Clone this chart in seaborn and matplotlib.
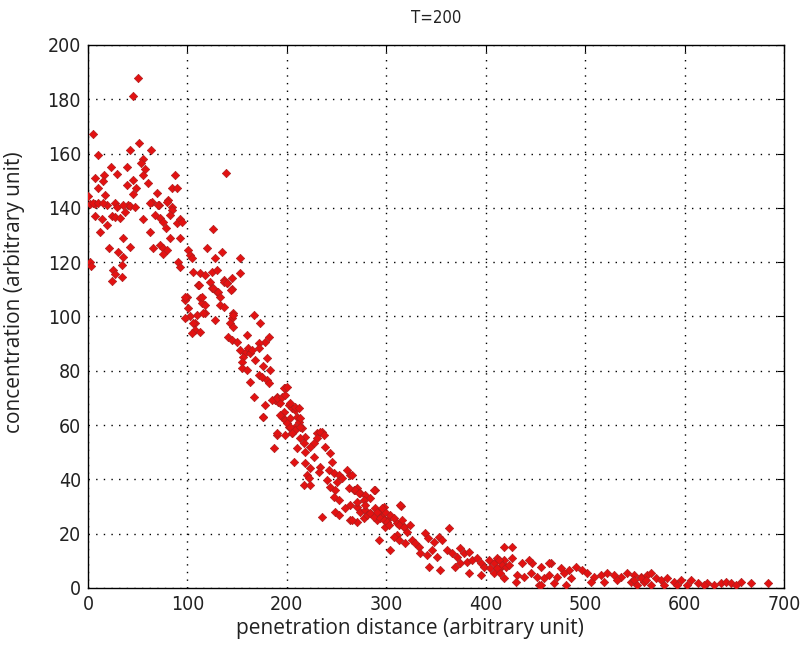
import matplotlib
matplotlib.use("Agg")
import matplotlib.pyplot as plt
import seaborn as sns
import pandas as pd

# penetration distance / concentration samples at T=200
distance = [
    50.6, 45.6, 5.4, 51.4, 42.3, 63.1, 10.4, 55.7, 53.4, 22.9, 39.0, 57.4, 87.6, 138.7, 16.1, 29.5,
    7.0, 55.0, 45.6, 14.8, 60.7, 39.0, 48.3, 10.4, 84.9, 89.3, 69.1, 45.6, 17.1, 0.3, 64.1, 71.5,
    80.9, 7.0, 18.8, 27.2, 40.6, 84.3, 2.0,
    5.4, 10.4, 15.4, 29.0, 35.6, 42.3, 47.3, 62.4, 70.8, 79.3, 84.3, 7.0, 13.7, 23.8, 27.2, 32.2,
    18.8, 37.3, 55.7, 67.5, 72.5, 75.8, 82.6, 89.3, 92.6, 94.4, 78.5, 62.4, 12.1, 126.2, 35.6, 42.3,
    21.5, 30.5, 82.6, 92.6, 65.8, 72.5, 75.8, 79.2, 75.8, 101.0, 102.7, 104.4, 119.4, 134.6, 35.6,
    34.2, 2.0, 2.7, 90.9, 92.6, 127.9, 152.4, 25.5, 27.2, 34.2, 23.8, 106.0, 112.8, 117.8, 124.6,
    129.5, 136.3, 139.6, 144.7, 152.4, 111.1, 122.9, 124.5, 129.5, 144.7, 99.3, 97.7, 112.8, 114.4,
    117.8, 132.9, 136.3, 146.3, 144.7, 102.7, 109.4, 117.8, 127.9, 101.0, 107.8, 97.7,
    112.1, 126.2, 131.2, 136.3, 139.6, 143.7, 97.7, 114.4, 132.9, 116.1, 146.3, 166.5, 172.6,
    106.0, 107.8, 112.8, 104.4, 143.0, 146.3, 141.3, 144.7, 149.7, 159.7, 181.6, 178.2, 171.5,
    153.1, 158.1, 161.4, 163.1, 156.4, 164.8, 171.5, 180.5, 168.2, 154.7, 154.7, 159.7, 175.8,
    183.3, 171.5, 174.9, 179.9, 181.6, 163.1, 198.4, 166.5, 189.9, 191.6, 188.3, 193.4, 178.2,
    201.7, 205.1, 208.5, 196.7, 176.5, 195.0, 198.4, 203.4, 210.1, 211.8, 208.5, 215.2, 201.7,
    189.9, 198.4, 205.1, 218.5, 230.3, 235.3,
    185.0, 190.0, 195.0, 198.4, 196.7, 200.1, 203.4, 208.5, 211.8, 193.4, 175.9, 200.0, 203.4,
    208.5, 205.1, 190.0, 213.5, 213.5, 233.6, 230.2, 226.9, 223.6, 237.0, 213.5, 216.8, 218.5,
    210.2, 187.3, 238.7, 243.7, 245.3, 206.7, 218.5, 226.9, 233.6, 232.0, 223.6, 220.2, 221.9,
    242.0, 247.1, 252.1, 255.4, 260.5, 263.8, 216.8, 223.6, 240.4, 243.7, 248.8, 250.5, 267.2,
    270.5, 273.9, 289.0, 279.0, 284.0, 247.0, 252.0, 258.8, 263.8, 270.5, 273.9, 279.0, 284.0,
    289.0, 292.4, 297.4, 235.3, 248.8, 252.1, 263.8, 270.5, 277.2, 280.6, 290.7, 295.7, 300.8,
    304.1, 307.5, 310.8, 315.8, 317.5, 299.1, 314.8, 299.1,
    265.5, 262.1, 268.9, 272.2, 277.2, 270.5, 278.9, 287.3, 265.5, 284.0, 287.3, 290.7, 294.0,
    297.4, 300.7, 302.4, 295.7, 314.2, 312.5, 317.5, 324.3, 320.9, 310.8, 292.3, 304.1, 307.5,
    312.5, 319.2, 326.0, 329.3, 332.6, 339.4, 342.4, 347.8, 352.8, 356.1, 362.8, 334.3, 341.1,
    346.1, 351.1, 342.7, 354.5, 361.2, 366.2, 371.2, 374.6, 377.9, 383.0, 369.6, 374.6, 381.3,
    386.3, 391.3, 394.8, 398.1, 403.1, 404.8, 408.1, 411.5, 414.9, 418.2, 383.0, 394.8, 408.1,
    418.2,
    426.7, 426.7, 413.2, 416.6, 419.9, 423.3, 411.5, 414.8, 418.2, 436.8, 446.9, 455.2, 465.3,
    475.3, 483.7, 490.4, 497.1, 431.7, 438.4, 445.1, 451.8, 458.5, 463.5, 472.0, 478.7, 485.4,
    430.0, 453.5, 468.6, 480.4, 502.1, 508.8, 515.6, 522.3, 529.0, 535.7, 542.4, 549.1, 555.9,
    562.6, 505.5, 518.9, 532.3, 545.8, 559.2, 463.5, 443.4, 455.2,
    566.0, 549.2, 555.9, 560.9, 571.0, 576.0, 582.8, 589.5, 596.2, 606.2, 613.0, 552.5, 565.9,
    579.3, 592.8, 602.8, 623.0, 619.6, 636.5, 641.5, 646.5, 656.6, 666.7, 683.4, 629.7, 651.6,
]
concentration = [
    187.7, 181.3, 167.1, 164.0, 161.2, 161.2, 159.5, 157.9, 156.4, 155.2, 155.2, 154.3, 152.1,
    152.9, 152.1, 152.4, 151.0, 152.1, 150.3, 150.0, 149.3, 148.3, 147.2, 147.2, 147.2, 147.2,
    145.4, 145.1, 144.8, 144.2, 142.3, 141.0, 142.9, 141.4, 141.0, 141.9, 141.0, 140.3, 141.4,
    141.8, 141.8, 141.8, 140.4, 141.0, 140.7, 140.2, 141.9, 141.0, 142.3, 139.2, 137.0, 135.8,
    137.0, 136.5, 136.2, 133.7, 138.6, 135.8, 137.4, 136.2, 134.9, 137.4, 134.3, 135.8, 134.9,
    132.5, 131.3, 131.0, 132.1, 128.8, 125.7, 125.1, 123.9, 128.8, 128.8, 125.1, 126.3, 125.1,
    124.5, 123.0, 124.5, 122.7, 121.4, 125.1, 123.9, 122.0, 119.0, 120.2, 118.6, 120.2, 118.3,
    121.4, 121.4, 117.1, 115.7, 114.4, 113.2, 116.5, 115.9, 115.3, 116.5, 117.1, 113.4, 112.2,
    114.1, 115.9, 111.6, 112.8, 110.4, 109.2, 110.0, 107.3, 106.1, 106.7, 104.9, 104.2, 104.2,
    103.6, 101.2, 99.3, 100.0, 100.6, 101.2, 98.7, 103.0, 97.5, 99.3,
    111.6, 110.4, 109.2, 112.8, 112.2, 109.8, 107.3, 107.3, 107.3, 101.2, 100.6, 100.6, 97.5,
    97.5, 95.0, 94.4, 94.0, 97.5, 96.3, 92.6, 91.3, 90.7, 93.2, 92.6, 90.7, 90.1, 87.7, 86.4,
    88.3, 86.4, 85.2, 87.7, 88.3, 84.6, 84.0, 83.4, 80.9, 80.3, 81.8, 80.3, 78.5, 77.6, 76.6,
    75.4, 76.0, 73.6, 70.5, 70.5, 68.6, 69.2, 68.0, 67.4, 67.4, 66.2, 65.6, 65.0, 63.1, 63.1,
    61.9, 62.5, 63.1, 61.3, 59.4, 58.8, 59.4, 56.4, 56.4, 57.0, 55.7, 57.0, 57.6,
    69.2, 69.9, 70.5, 71.1, 73.6, 74.1, 68.0, 66.8, 66.2, 63.7, 63.1, 60.7, 59.4, 58.2, 57.0,
    57.0, 62.5, 59.4, 57.6, 55.2, 53.3, 52.1, 56.4, 55.2, 53.3, 50.2, 51.4, 51.4, 52.1, 49.6,
    46.5, 46.5, 45.9, 48.4, 44.7, 42.8, 44.1, 41.6, 40.4, 43.5, 42.2, 41.6, 40.4, 43.5, 41.6,
    37.9, 37.9, 39.8, 37.3, 36.1, 39.2, 36.1, 36.7, 34.9, 36.1, 34.3, 33.0, 33.6, 32.4, 29.4,
    30.6, 29.9, 28.1, 28.7, 27.5, 29.4, 28.1, 29.9, 26.3, 28.1, 26.9, 25.0, 24.4, 25.7, 26.9,
    25.0, 26.3, 25.0, 26.9, 25.7, 23.8, 25.0, 22.6, 22.6, 30.2, 28.1,
    41.6, 36.7, 36.1, 34.9, 32.4, 31.8, 30.6, 36.1, 25.0, 27.5, 26.3, 28.1, 25.7, 25.0, 24.4,
    23.2, 29.4, 30.6, 23.2, 22.6, 23.2, 20.7, 19.5, 17.7, 14.0, 18.9, 17.7, 16.5, 17.7, 16.5,
    15.2, 20.1, 18.3, 17.1, 18.9, 17.7, 22.0, 12.8, 12.2, 14.0, 11.5, 7.8, 6.6, 14.0, 12.8, 11.5,
    14.6, 12.8, 13.4, 7.8, 9.1, 9.7, 10.3, 10.9, 9.1, 7.8, 10.3, 7.3, 9.1, 10.9, 7.8, 10.3, 5.4,
    4.8, 5.4, 15.0,
    15.2, 10.9, 10.3, 8.5, 7.9, 8.5, 7.3, 5.4, 3.6, 9.1, 9.1, 7.8, 9.1, 7.3, 6.6, 7.8, 6.6, 4.8,
    4.2, 5.4, 4.2, 3.6, 4.8, 4.2, 5.4, 3.6, 2.3, 1.1, 1.7, 1.1, 5.4, 4.2, 4.8, 5.4, 4.8, 4.2,
    5.4, 4.8, 4.2, 4.8, 2.3, 2.3, 2.9, 2.3, 2.3, 9.1, 10.3, 1.1,
    5.4, 2.9, 3.6, 2.9, 3.6, 2.9, 3.6, 2.3, 2.9, 2.9, 1.7, 1.1, 1.1, 1.1, 1.1, 1.1, 1.7, 1.1,
    1.7, 2.3, 1.7, 2.3, 1.7, 1.7, 1.1, 1.1,
]
x_ticks = [0, 100, 200, 300, 400, 500, 600, 700]
y_ticks = [0, 20, 40, 60, 80, 100, 120, 140, 160, 180, 200]

df = pd.DataFrame({"distance": distance, "concentration": concentration})

sns.set_style("white")
plt.rcParams["font.family"] = ["DejaVu Sans"]

fig = plt.figure(figsize=(8.02, 6.51), dpi=100)
ax = fig.add_axes([0.1097, 0.0968, 0.8679, 0.8341])

sns.scatterplot(data=df, x="distance", y="concentration", ax=ax, marker="D",
                s=18, color="#e31212", edgecolor="#b01c1c", linewidth=0.5, zorder=3)

ax.set_xlim(0, 700)
ax.set_ylim(0, 200)
ax.set_xticks(x_ticks)
ax.set_yticks(y_ticks)
ax.grid(True, linestyle=(0, (1, 4.5)), color="black", linewidth=1.0)
for side in ax.spines.values():
    side.set_color("black")
    side.set_linewidth(1.0)
ax.tick_params(direction="in", length=5, width=0.8, top=True, right=True,
               colors="black", pad=5)
for lab in ax.get_xticklabels() + ax.get_yticklabels():
    lab.set_fontsize(14)
    lab.set_fontstretch("condensed")
    lab.set_color("#222222")

ax.set_xlabel("penetration distance (arbitrary unit)", fontsize=15, family="Open Sans",
              color="#222222")
ax.set_ylabel("concentration (arbitrary unit)", fontsize=15, family="Open Sans",
              color="#222222")
ax.xaxis.set_label_coords(0.463, -0.056)
ax.yaxis.set_label_coords(-0.090, 0.545)
ax.set_title("T=200", fontsize=12, pad=16, fontstretch="condensed", color="#222222")

fig.savefig("out.png", dpi=100)
